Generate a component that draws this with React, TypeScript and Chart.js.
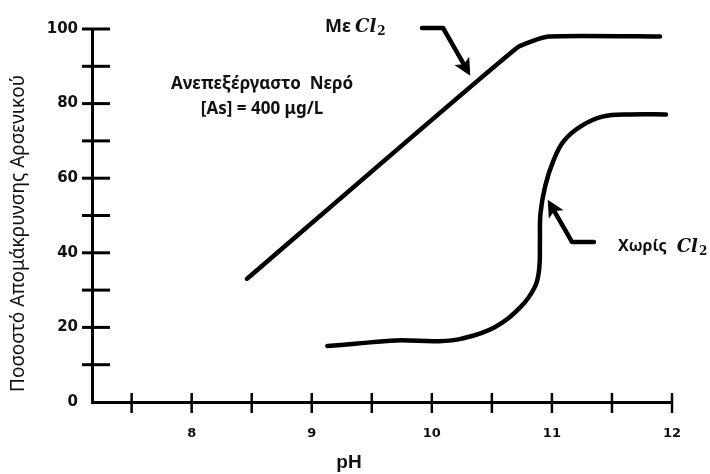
import { useEffect, useRef } from "react";
import { Chart, registerables } from "chart.js";

Chart.register(...registerables);

// pH values and % arsenic removal, with chlorine
const phWithCl2 = [8.46, 10.71, 10.97, 11.9];
const removalWithCl2 = [33, 95, 98, 98];

// pH values and % arsenic removal, without chlorine
const phWithoutCl2 = [9.13, 9.36, 9.7, 10.06, 10.25, 10.52, 10.74, 10.86, 10.895, 10.9, 10.905, 10.945, 11.015, 11.1, 11.24, 11.42, 11.66, 11.95];
const removalWithoutCl2 = [15, 15.6, 16.5, 16.3, 17, 20, 25.5, 31, 36, 42.8, 50.6, 58, 64.9, 70, 73.9, 76.5, 77.1, 77.1];

// axis ticks
const phTicks = [7.5, 8, 8.5, 9, 9.5, 10, 10.5, 11, 11.5, 12];
const removalTicks = [10, 20, 30, 40, 50, 60, 70, 80, 90, 100];

const xTitle = "pH";
const yTitle = "Ποσοστό Απομάκρυνσης Αρσενικού";
const noteLine1 = "Ανεπεξέργαστο  Νερό";
const noteLine2 = "[As] = 400 μg/L";
const labelWith = "Με";
const labelWithout = "Χωρίς";

// annotation anchors in data units (pH, %)
const noteAnchor = { x: 8.586, y1: 85.2, y2: 78.5 };
const withLabelAt = { x: 9.219, y: 100.5 };
const withoutLabelAt = { x: 11.55, y: 41.6 };
const arrowWith = [
  { x: 9.918, y: 100.3 },
  { x: 10.093, y: 100.3 },
  { x: 10.32, y: 87.5 },
];
const arrowWithout = [
  { x: 11.35, y: 42.9 },
  { x: 11.167, y: 42.9 },
  { x: 10.965, y: 54.2 },
];

const toPoints = (xs: number[], ys: number[]) => xs.map((x, i) => ({ x, y: ys[i] }));

function drawArrow(ctx: CanvasRenderingContext2D, pts: { x: number; y: number }[]) {
  ctx.save();
  ctx.strokeStyle = "#000";
  ctx.fillStyle = "#000";
  ctx.lineWidth = 4.5;
  ctx.lineJoin = "round";
  ctx.lineCap = "round";
  const n = pts.length;
  const tip = pts[n - 1];
  const prev = pts[n - 2];
  const ang = Math.atan2(tip.y - prev.y, tip.x - prev.x);
  const headLen = 17;
  const headHalf = 8.5;
  const baseX = tip.x - Math.cos(ang) * headLen;
  const baseY = tip.y - Math.sin(ang) * headLen;
  ctx.beginPath();
  ctx.moveTo(pts[0].x, pts[0].y);
  for (let i = 1; i < n - 1; i++) ctx.lineTo(pts[i].x, pts[i].y);
  ctx.lineTo(baseX + Math.cos(ang) * 3, baseY + Math.sin(ang) * 3);
  ctx.stroke();
  ctx.beginPath();
  ctx.moveTo(tip.x, tip.y);
  ctx.lineTo(baseX - Math.sin(ang) * headHalf, baseY + Math.cos(ang) * headHalf);
  ctx.lineTo(baseX + Math.cos(ang) * 4, baseY + Math.sin(ang) * 4);
  ctx.lineTo(baseX + Math.sin(ang) * headHalf, baseY - Math.cos(ang) * headHalf);
  ctx.closePath();
  ctx.fill();
  ctx.restore();
}

// "Cl" in italic math style followed by a subscript 2
function drawCl2(ctx: CanvasRenderingContext2D, x: number, y: number) {
  ctx.save();
  ctx.fillStyle = "#111";
  ctx.textAlign = "left";
  ctx.textBaseline = "middle";
  ctx.font = "italic bold 18px 'DejaVu Serif'";
  ctx.fillText("Cl", x, y);
  const w = ctx.measureText("Cl").width;
  ctx.font = "bold 12px 'DejaVu Serif'";
  ctx.fillText("2", x + w + 1, y + 5);
  ctx.restore();
}

const axisPlugin = {
  id: "axisMarks",
  afterDraw(chart: any) {
    const { ctx, chartArea, scales } = chart;
    const xs = scales.x;
    const ys = scales.y;
    ctx.save();
    ctx.strokeStyle = "#000";
    ctx.lineCap = "butt";
    // tick marks crossing the y axis
    ctx.lineWidth = 3;
    for (const v of removalTicks) {
      const py = ys.getPixelForValue(v);
      ctx.beginPath();
      ctx.moveTo(chartArea.left - 10, py);
      ctx.lineTo(chartArea.left + 18, py);
      ctx.stroke();
    }
    // tick marks crossing the x axis
    ctx.lineWidth = 2.5;
    for (const v of phTicks) {
      const px = xs.getPixelForValue(v);
      ctx.beginPath();
      ctx.moveTo(px, chartArea.bottom - 9);
      ctx.lineTo(px, chartArea.bottom + 11);
      ctx.stroke();
    }
    // axis titles
    ctx.fillStyle = "#111";
    ctx.textAlign = "center";
    ctx.textBaseline = "middle";
    ctx.font = "bold 19px 'Liberation Sans'";
    ctx.fillText(xTitle, (chartArea.left + chartArea.right) / 2 - 33, chartArea.bottom + 61);
    ctx.translate(19, (chartArea.top + chartArea.bottom) / 2 + 18);
    ctx.rotate(-Math.PI / 2);
    ctx.font = "19px 'Noto Sans'";
    ctx.fillText(yTitle, 0, 0);
    ctx.restore();
  },
};

const notesPlugin = {
  id: "notes",
  afterDatasetsDraw(chart: any) {
    const { ctx, scales } = chart;
    const X = (v: number) => scales.x.getPixelForValue(v);
    const Y = (v: number) => scales.y.getPixelForValue(v);
    ctx.save();
    ctx.fillStyle = "#111";
    ctx.textAlign = "center";
    ctx.textBaseline = "middle";
    ctx.font = "bold 17px 'Noto Sans'";
    ctx.fillText(noteLine1, X(noteAnchor.x), Y(noteAnchor.y1));
    ctx.fillText(noteLine2, X(noteAnchor.x), Y(noteAnchor.y2));

    ctx.font = "bold 18px 'Noto Sans'";
    ctx.fillText(labelWith, X(withLabelAt.x), Y(withLabelAt.y));
    const withW = ctx.measureText(labelWith).width;
    drawCl2(ctx, X(withLabelAt.x) + withW / 2 + 4, Y(withLabelAt.y));

    ctx.textAlign = "left";
    ctx.font = "bold 16px 'Noto Sans'";
    ctx.fillText(labelWithout, X(withoutLabelAt.x), Y(withoutLabelAt.y));
    const woW = ctx.measureText(labelWithout).width;
    drawCl2(ctx, X(withoutLabelAt.x) + woW + 10, Y(withoutLabelAt.y));
    ctx.restore();

    drawArrow(ctx, arrowWith.map((p) => ({ x: X(p.x), y: Y(p.y) })));
    drawArrow(ctx, arrowWithout.map((p) => ({ x: X(p.x), y: Y(p.y) })));
  },
};

export default function App() {
  const canvasRef = useRef<HTMLCanvasElement | null>(null);

  useEffect(() => {
    if (!canvasRef.current) return;
    const chart = new Chart(canvasRef.current, {
      type: "line",
      data: {
        datasets: [
          {
            label: "Με Cl2",
            data: toPoints(phWithCl2, removalWithCl2),
            borderColor: "#000",
            borderWidth: 4.5,
            pointRadius: 0,
            tension: 0.15,
            fill: false,
            borderCapStyle: "round",
            borderJoinStyle: "round",
          },
          {
            label: "Χωρίς Cl2",
            data: toPoints(phWithoutCl2, removalWithoutCl2),
            borderColor: "#000",
            borderWidth: 4.5,
            pointRadius: 0,
            tension: 0.4,
            fill: false,
            borderCapStyle: "round",
            borderJoinStyle: "round",
          },
        ],
      },
      options: {
        responsive: false,
        animation: false,
        devicePixelRatio: 1,
        layout: { padding: { left: 0, right: 38, top: 29, bottom: 0 } },
        plugins: {
          legend: { display: false },
          tooltip: { enabled: false },
        },
        scales: {
          x: {
            type: "linear",
            min: 7.17,
            max: 12,
            afterBuildTicks: (scale: any) => {
              scale.ticks = phTicks.map((v) => ({ value: v }));
            },
            afterFit: (scale: any) => {
              scale.height = 72;
            },
            grid: { display: true, drawOnChartArea: false, drawTicks: false, color: "rgba(0,0,0,0)" },
            border: { display: true, color: "#000", width: 3 },
            ticks: {
              padding: 24,
              maxRotation: 0,
              autoSkip: false,
              color: "#111",
              font: { family: "'DejaVu Sans'", size: 13, weight: "bold" },
              callback: (v: any) => (Number.isInteger(Number(v)) ? String(v) : ""),
            },
          },
          y: {
            type: "linear",
            min: 0,
            max: 100,
            afterFit: (scale: any) => {
              scale.width = 92;
            },
            grid: { display: true, drawOnChartArea: false, drawTicks: false, color: "rgba(0,0,0,0)" },
            border: { display: true, color: "#000", width: 3 },
            ticks: {
              stepSize: 10,
              padding: 14,
              autoSkip: false,
              color: "#111",
              font: { family: "'DejaVu Sans'", size: 15, weight: "bold" },
              callback: (v: any) => (Number(v) % 20 === 0 ? String(v) : ""),
            },
          },
        },
      },
      plugins: [axisPlugin, notesPlugin],
    });
    return () => chart.destroy();
  }, []);

  return (
    <div style={{ position: "fixed", left: 0, top: 0, width: 710, height: 474, background: "#fff" }}>
      <canvas ref={canvasRef} width={710} height={474} style={{ width: 710, height: 474, display: "block" }} />
    </div>
  );
}
